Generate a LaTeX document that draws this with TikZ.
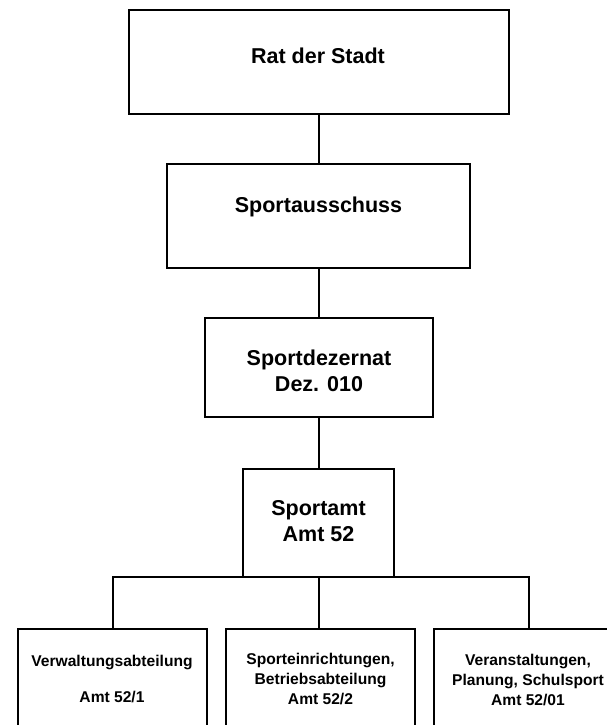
\documentclass[tikz,border=0pt]{standalone}
\usepackage{fontspec}
\setmainfont{Liberation Sans}
\begin{document}
\begin{tikzpicture}[x=1pt,y=-1pt,
  box/.style={draw=black, line width=2pt, rectangle, inner sep=0pt, outer sep=0pt},
  big/.style={font=\fontsize{21.5}{26}\selectfont\bfseries, align=center, inner sep=0pt},
  small/.style={font=\fontsize{15.6}{20}\selectfont\bfseries, align=center, inner sep=0pt},
  conn/.style={line width=2pt, line cap=rect}]
\clip (0,0) rectangle (607,725);
\fill[white] (0,0) rectangle (607,725);
% boxes
\node[box, minimum width=380pt, minimum height=104pt] (A) at (319,62) {};
\node[box, minimum width=303pt, minimum height=104pt] (B) at (318.5,216) {};
\node[box, minimum width=228pt, minimum height=99pt] (C) at (319,367.5) {};
\node[box, minimum width=151pt, minimum height=108pt] (D) at (318.5,523) {};
\node[box, minimum width=189pt, minimum height=116pt] (b1) at (112.5,687) {};
\node[box, minimum width=189pt, minimum height=116pt] (b2) at (320.5,687) {};
\node[box, minimum width=189pt, minimum height=116pt] (b3) at (528.5,687) {};
% texts
\node[big] (tA) at (318,56) {Rat der Stadt};
\node[big] (tB) at (318.5,207) {Sportausschuss};
\node[big] (tC) at (319,371) {Sportdezernat\\Dez. 010};
\node[big] (tD) at (318.5,521.5) {Sportamt\\Amt 52};
\node[small] (t1a) at (112,662) {Verwaltungsabteilung};
\node[small] (t1b) at (112,697) {Amt 52/1};
\node[small] (t2) at (320.5,679) {Sporteinrichtungen,\\Betriebsabteilung\\Amt 52/2};
\node[small] (t3) at (528,680) {Veranstaltungen,\\Planung, Schulsport\\Amt 52/01};
% connectors
\coordinate (cx) at (319,0);
\draw[conn] (cx |- A.south) -- (cx |- B.north);
\draw[conn] (cx |- B.south) -- (cx |- C.north);
\draw[conn] (cx |- C.south) -- (cx |- D.north);
\draw[conn] (cx |- D.south) -- (cx |- b2.north);
\draw[conn] (b1.north) |- (cx |- D.south) -| (b3.north);
\end{tikzpicture}
\end{document}
